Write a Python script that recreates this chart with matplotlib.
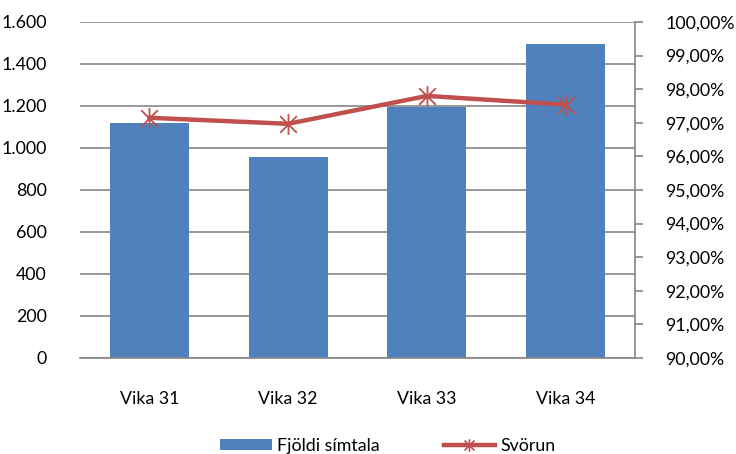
import matplotlib
matplotlib.use("Agg")
import matplotlib.pyplot as plt
from matplotlib.path import Path
from matplotlib.ticker import FuncFormatter, MultipleLocator
from matplotlib.lines import Line2D
from matplotlib.patches import Patch

categories = ["Vika 31", "Vika 32", "Vika 33", "Vika 34"]
calls = [1120, 957, 1195, 1493]
answer_rate = [97.15, 96.97, 97.80, 97.54]
bar_label = "Fjöldi símtala"
line_label = "Svörun"

plt.rcParams['font.family'] = ['Lato', 'DejaVu Sans']
FS = 12.8

fig = plt.figure(figsize=(7.36, 4.54), dpi=100)
ax = fig.add_axes([80/736, (454-358)/454, 555/736, 336/454])
ax2 = ax.twinx()

x = list(range(len(categories)))
ax.bar(x, calls, width=0.57, color="#4F81BD", zorder=2)
ax.set_xlim(-0.5, len(categories) - 0.5)
ax.set_ylim(0, 1600)
ax.yaxis.set_major_locator(MultipleLocator(200))
ax.yaxis.set_major_formatter(FuncFormatter(lambda v, p: f"{int(v):,}".replace(",", ".")))
ax.grid(axis="y", color="#868686", linewidth=1.2, zorder=0)
ax.set_axisbelow(True)
for s in ["top", "left", "right"]:
    ax.spines[s].set_visible(False)
ax.spines["bottom"].set_color("#868686")
ax.spines["bottom"].set_linewidth(1.2)
ax.tick_params(axis="y", length=0, pad=24, labelsize=FS)
ax.tick_params(axis="x", length=0, pad=24, labelsize=FS)
ax.set_xticks(x)
ax.set_xticklabels(categories)

star = Path([(0, -1), (0, 1), (-0.8, -0.8), (0.8, 0.8), (-0.8, 0.8), (0.8, -0.8)],
            [Path.MOVETO, Path.LINETO, Path.MOVETO, Path.LINETO, Path.MOVETO, Path.LINETO])

ax2.plot(x, answer_rate, color="#C0504D", linewidth=3.2, marker=star, markersize=15,
         markeredgewidth=1.3, markeredgecolor="#C0504D", zorder=3)
ax2.set_ylim(90, 100)
ax2.yaxis.set_major_locator(MultipleLocator(1))
ax2.yaxis.set_major_formatter(FuncFormatter(lambda v, p: f"{v:.2f}".replace(".", ",") + "%"))
for s in ["top", "left", "bottom"]:
    ax2.spines[s].set_visible(False)
ax2.spines["right"].set_color("#868686")
ax2.spines["right"].set_linewidth(1.2)
ax2.tick_params(axis="y", length=6, width=1.2, color="#868686", pad=16, labelsize=FS)

handles = [Patch(facecolor="#4F81BD", edgecolor="none"),
           Line2D([0], [0], color="#C0504D", linewidth=3.2, marker=star, markersize=9,
                  markeredgewidth=1.2)]
fig.legend(handles, [bar_label, line_label], loc="lower center", bbox_to_anchor=(0.527, -0.035),
           ncol=2, frameon=False, fontsize=FS, handlelength=2.9, handleheight=0.6,
           columnspacing=3.6, handletextpad=0.3)

fig.savefig("out.png", dpi=100)
